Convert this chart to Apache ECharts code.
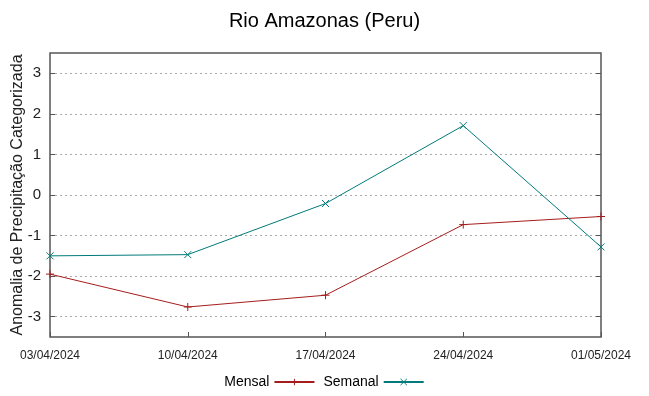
<!DOCTYPE html>
<html><head><meta charset="utf-8">
<script src="https://cdn.jsdelivr.net/npm/echarts@6/dist/echarts.min.js"></script>
<style>html,body{margin:0;padding:0;background:#fff}#c{width:649px;height:396px}</style>
</head><body><div id="c"></div>
<script>
const categories = ['03/04/2024','10/04/2024','17/04/2024','24/04/2024','01/05/2024'];
const mensal = [-1.95, -2.76, -2.47, -0.73, -0.53];
const semanal = [-1.50, -1.47, -0.21, 1.71, -1.28];
const yTicks = [-3,-2,-1,0,1,2,3];

const plus = 'path://M0,5L10,5M5,0L5,10';
const cross = 'path://M0,0L10,10M0,10L10,0';
const red = '#a51c1c', teal = '#007a7a';
const chart = echarts.init(document.getElementById('c'));
chart.setOption({
  animation:false,
  title:{text:'Rio Amazonas (Peru)', left:'center', top:6, textStyle:{fontFamily:'Liberation Sans', fontSize:20, fontWeight:'normal', color:'#000'}},
  grid:{left:50, right:48, top:53, bottom:59, show:true, borderColor:'#555', borderWidth:1.5, backgroundColor:'transparent', containLabel:false, outerBoundsMode:'none'},
  legend:{bottom:2, left:'center', align:'right', itemWidth:40, itemHeight:8, itemGap:8,
    textStyle:{fontFamily:'Liberation Sans', fontSize:14, color:'#000'},
    data:[{name:'Mensal', itemStyle:{borderWidth:1}},{name:'Semanal', itemStyle:{borderWidth:1}}]},
  xAxis:{type:'category', data:categories, boundaryGap:false,
    axisLine:{show:false, onZero:false}, axisTick:{show:true, inside:true, length:5, lineStyle:{color:'#555'}},
    axisLabel:{fontFamily:'Liberation Sans', fontSize:12, color:'#222', margin:13, interval:0}, splitLine:{show:false}},
  yAxis:[{type:'value', min:-3.5, max:3.5, interval:1,
    axisLabel:{fontFamily:'Liberation Sans', fontSize:15, color:'#222', margin:9,
      customValues: yTicks, formatter:v=>String(v)},
    axisTick:{show:true, inside:true, length:5, lineStyle:{color:'#555'}, customValues: yTicks},
    axisLine:{show:false},
    splitLine:{show:true, lineStyle:{color:'#aaa', type:[2,3], width:1}},
    name:'Anomalia de Precipitação Categorizada', nameLocation:'middle', nameGap:24, nameMoveOverlap:false,
    nameTextStyle:{fontFamily:'Liberation Sans', fontSize:16, color:'#222'}},
   {type:'value', min:-3.5, max:3.5, interval:1, position:'right',
    axisLabel:{show:false}, axisLine:{show:false}, splitLine:{show:false},
    axisTick:{show:true, inside:true, length:5, lineStyle:{color:'#555'}, customValues: yTicks}}],
  series:[
    {name:'Mensal', type:'line', data:mensal, symbol:plus, symbolSize:8, showAllSymbol:true,
      lineStyle:{color:red, width:1}, itemStyle:{color:red, borderColor:red, borderWidth:1}},
    {name:'Semanal', type:'line', data:semanal, symbol:cross, symbolSize:7, showAllSymbol:true,
      lineStyle:{color:teal, width:1}, itemStyle:{color:teal, borderColor:teal, borderWidth:1}}
  ]
});
</script></body></html>
